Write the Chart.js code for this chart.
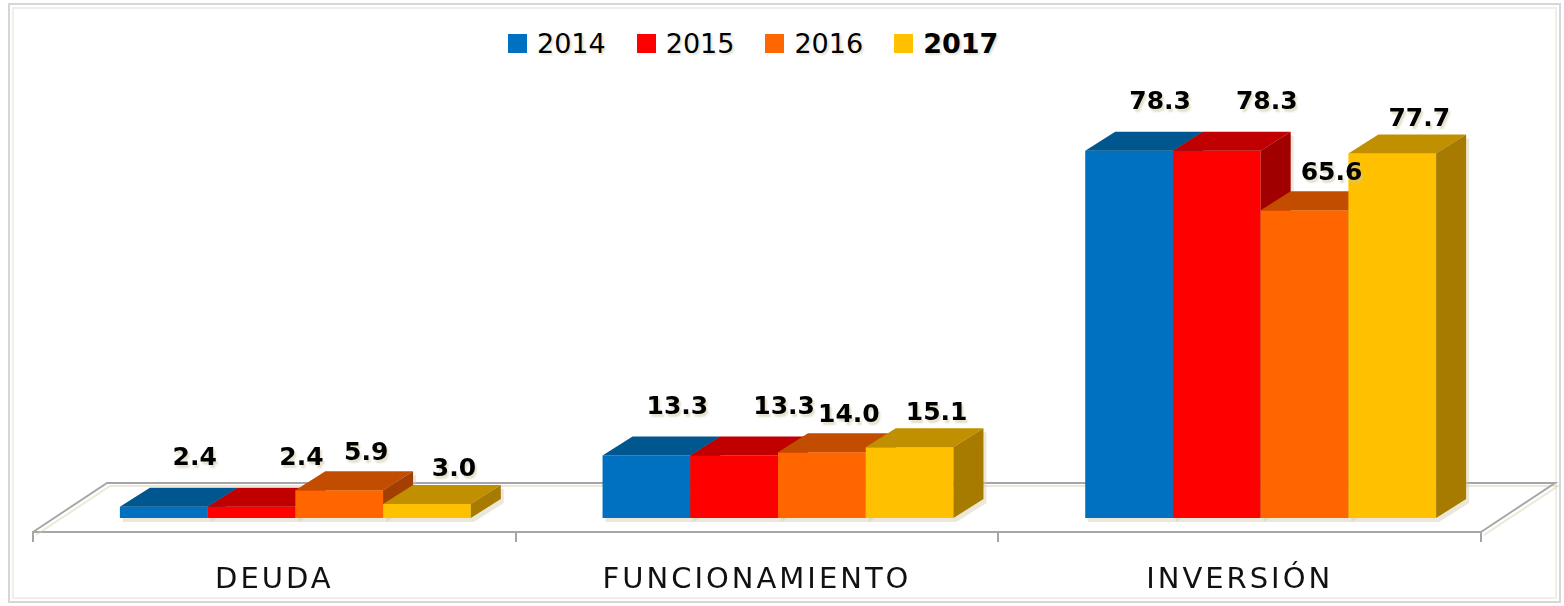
<!DOCTYPE html>
<html>
<head>
<meta charset="utf-8">
<script src="https://cdn.jsdelivr.net/npm/chart.js@4.4.1/dist/chart.umd.min.js"></script>
<style>
    body { margin: 0; background: #fff; }
    #wrap { position: relative; width: 1564px; height: 606px; }
    #frame {
        position: absolute; left: 8px; top: 3px; width: 1553px; height: 600px;
        box-sizing: border-box; border: 2px solid #d6d6d6;
        box-shadow: inset 0 0 0 2px #fff, inset 0 0 0 4px #efeee7;
    }
    #legend {
        position: absolute; left: 508px; top: 23px; height: 40px;
        display: flex; align-items: center; gap: 31px;
        font-family: "DejaVu Sans", sans-serif; font-size: 27px; color: #000;
        text-shadow: 2px 2px 2px rgba(205, 198, 165, 0.5);
    }
    #legend .item { display: flex; align-items: center; }
    #legend .box { width: 19px; height: 19px; margin-right: 10px; }
    #chart-box { position: absolute; left: 0; top: 0; width: 1564px; height: 606px; }
</style>
</head>
<body>
<div id="wrap">
    <div id="frame"></div>
    <div id="legend"></div>
    <div id="chart-box"><canvas id="chart"></canvas></div>
</div>
<script>
// Data
const categories = ['DEUDA', 'FUNCIONAMIENTO', 'INVERSIÓN'];
const years = ['2014', '2015', '2016', '2017'];
const values2014 = [2.4, 13.3, 78.3];
const values2015 = [2.4, 13.3, 78.3];
const values2016 = [5.9, 14.0, 65.6];
const values2017 = [3.0, 15.1, 77.7];
const seriesValues = [values2014, values2015, values2016, values2017];

// Colors: front, top and side faces
const frontColors = ['#0070C0', '#FF0000', '#FF6600', '#FFC000'];
const topColors = ['#00568F', '#C00000', '#C24D00', '#C19000'];
const sideColors = ['#00497A', '#A00000', '#A33F00', '#A67B00'];

// 3D look
const depth = { x: 30, y: -19 };      // bar depth
const shift = { x: 21, y: -14 };      // bars sit inside the floor
const floorDepth = { x: 74, y: -49 };
const labelOffsets = [[31, -48], [50, -48], [27, -37], [27, -34]];
const shadowColor = 'rgba(210, 204, 170, 0.45)';

// HTML legend (last year in bold, as in the original)
const legendEl = document.getElementById('legend');
years.forEach((year, i) => {
    const item = document.createElement('div');
    item.className = 'item';
    item.innerHTML = `<span class="box" style="background:${frontColors[i]}"></span>` +
        `<span style="font-weight:${i === years.length - 1 ? 'bold' : 'normal'}">${year}</span>`;
    legendEl.appendChild(item);
});

function barBox(el) {
    const p = el.getProps(['x', 'y', 'base', 'width'], true);
    const L = p.x - p.width / 2 + shift.x;
    return { L, R: L + p.width, T: p.y + shift.y, B: p.base + shift.y, cx: p.x + shift.x };
}

function poly(ctx, pts, color) {
    ctx.beginPath();
    ctx.moveTo(pts[0][0], pts[0][1]);
    for (let k = 1; k < pts.length; k++) ctx.lineTo(pts[k][0], pts[k][1]);
    ctx.closePath();
    ctx.fillStyle = color;
    ctx.fill();
}

const bars3d = {
    id: 'bars3d',
    beforeDraw(chart) {
        // wider tracking for the category labels
        chart.ctx.letterSpacing = '3px';
    },
    beforeDatasetsDraw(chart) {
        const ctx = chart.ctx;
        const area = chart.chartArea;
        ctx.save();
        ctx.letterSpacing = '0px';

        // floor (front edge is the x axis line)
        const fl = area.left, fr = area.right, fb = area.bottom;
        ctx.strokeStyle = '#a6a6a6';
        ctx.lineWidth = 2;
        ctx.shadowColor = shadowColor;
        ctx.shadowOffsetX = 3;
        ctx.shadowOffsetY = 3;
        ctx.beginPath();
        ctx.moveTo(fl, fb);
        ctx.lineTo(fl + floorDepth.x, fb + floorDepth.y);
        ctx.lineTo(fr + floorDepth.x, fb + floorDepth.y);
        ctx.lineTo(fr, fb);
        ctx.stroke();
        ctx.shadowColor = 'transparent';

        const n = chart.data.datasets.length;
        // shadow pass
        for (let i = 0; i < n; i++) {
            chart.getDatasetMeta(i).data.forEach(el => {
                const b = barBox(el);
                poly(ctx, [
                    [b.L + 3, b.B + 4], [b.L + 3, b.T + 4], [b.L + depth.x + 3, b.T + depth.y + 4],
                    [b.R + depth.x + 3, b.T + depth.y + 4], [b.R + depth.x + 3, b.B + depth.y + 4], [b.R + 3, b.B + 4]
                ], shadowColor);
            });
        }
        // faces, left to right inside each group
        categories.forEach((_, j) => {
            for (let i = 0; i < n; i++) {
                const el = chart.getDatasetMeta(i).data[j];
                const b = barBox(el);
                poly(ctx, [[b.L, b.T], [b.R, b.T], [b.R, b.B], [b.L, b.B]], frontColors[i]);
                poly(ctx, [[b.L, b.T], [b.R, b.T], [b.R + depth.x, b.T + depth.y], [b.L + depth.x, b.T + depth.y]], topColors[i]);
                poly(ctx, [[b.R, b.T], [b.R + depth.x, b.T + depth.y], [b.R + depth.x, b.B + depth.y], [b.R, b.B]], sideColors[i]);
            }
        });
        ctx.restore();
        return false;
    },
    afterDraw(chart) {
        const ctx = chart.ctx;
        ctx.save();
        ctx.letterSpacing = '0px';
        ctx.font = 'bold 25px "DejaVu Sans", sans-serif';
        ctx.textAlign = 'center';
        ctx.textBaseline = 'middle';
        ctx.fillStyle = '#000';
        ctx.shadowColor = 'rgba(205, 198, 160, 0.55)';
        ctx.shadowOffsetX = 2;
        ctx.shadowOffsetY = 3;
        ctx.shadowBlur = 2;
        chart.data.datasets.forEach((ds, i) => {
            chart.getDatasetMeta(i).data.forEach((el, j) => {
                const b = barBox(el);
                ctx.fillText(ds.data[j].toFixed(1), b.cx + labelOffsets[i][0], b.T + labelOffsets[i][1]);
            });
        });
        ctx.restore();
    }
};

new Chart(document.getElementById('chart').getContext('2d'), {
    type: 'bar',
    data: {
        labels: categories,
        datasets: years.map((year, i) => ({
            label: year,
            data: seriesValues[i],
            backgroundColor: frontColors[i],
            categoryPercentage: 0.727,
            barPercentage: 1.0
        }))
    },
    options: {
        responsive: true,
        maintainAspectRatio: false,
        animation: false,
        layout: {
            padding: { left: 33, right: 83, top: 63, bottom: 0 }
        },
        plugins: {
            legend: { display: false },
            tooltip: { enabled: false }
        },
        scales: {
            x: {
                afterFit(scale) {
                    scale.height = 74;
                },
                border: { display: true, color: '#a6a6a6', width: 2 },
                grid: {
                    display: true,
                    offset: true,
                    drawOnChartArea: false,
                    drawTicks: true,
                    tickLength: 10,
                    color: '#a6a6a6',
                    lineWidth: 2
                },
                ticks: {
                    color: '#111',
                    padding: 21,
                    font: { family: '"DejaVu Sans", sans-serif', size: 29 }
                }
            },
            y: {
                display: false,
                min: 0,
                max: 100
            }
        }
    },
    plugins: [bars3d]
});
</script>
</body>
</html>
